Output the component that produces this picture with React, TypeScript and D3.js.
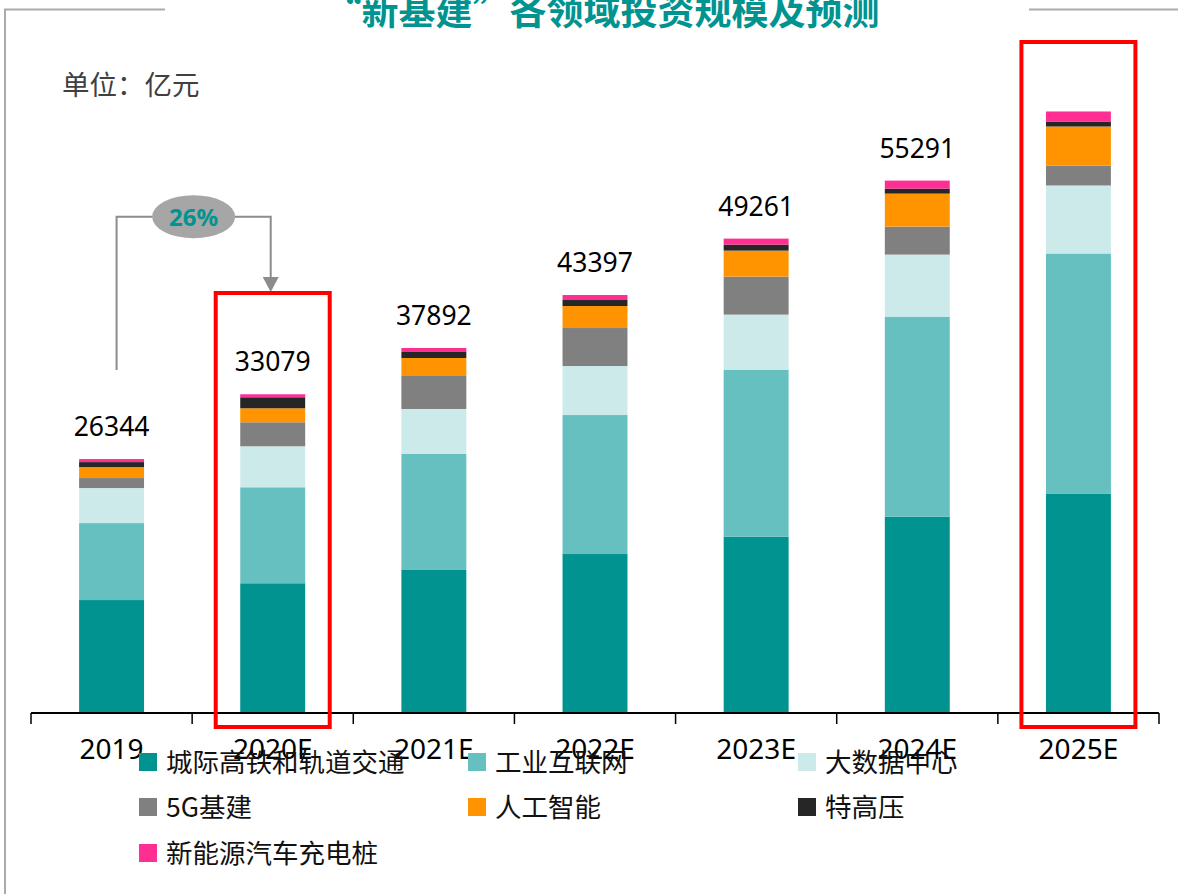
import React from "react";
import * as d3 from "d3";

const categories = ["2019", "2020E", "2021E", "2022E", "2023E", "2024E", "2025E"];
const seriesNames = ["城际高铁和轨道交通", "工业互联网", "大数据中心", "5G基建", "人工智能", "特高压", "新能源汽车充电桩"];
const seriesColors = ["#00938F", "#67C0C0", "#CDEAEA", "#808080", "#FF9400", "#262626", "#FF2E92"];
const railTransit = [11690, 13433, 14815, 16473, 18283, 20363, 22765];
const industrialInternet = [8000, 9979, 12058, 14449, 17360, 20790, 24948];
const dataCenter = [3640, 4262, 4678, 5094, 5717, 6445, 7069];
const fiveG = [1040, 2495, 3430, 3950, 3950, 2911, 2079];
const ai = [1140, 1455, 1871, 2287, 2703, 3430, 4054];
const uhv = [520, 1143, 624, 624, 624, 520, 520];
const evCharging = [314, 312, 416, 520, 624, 832, 1040];
const totalLabels = [26344, 33079, 37892, 43397, 49261, 55291, null];
const growthLabel = "26%";
const highlighted = ["2020E", "2025E"];

const W = 1178;
const H = 894;
const FONT = "'Noto Sans', 'Noto Sans CJK SC', sans-serif";
const CJK = "'Noto Sans CJK SC', 'Noto Sans', sans-serif";

export default function App() {
  const seriesValues = [railTransit, industrialInternet, dataCenter, fiveG, ai, uhv, evCharging];
  const rows = categories.map((c, i) => {
    const r: any = { cat: c };
    seriesNames.forEach((s, j) => (r[s] = seriesValues[j][i]));
    return r;
  });
  const stacked = d3.stack<any>().keys(seriesNames)(rows);

  const x = d3.scaleBand().domain(categories).range([31, 1159]).paddingInner(0.597).paddingOuter(0.2985);
  const y = d3.scaleLinear().domain([0, 65000]).range([712.5, 87.2]);
  const step = x.step();
  const bw = x.bandwidth();
  const cx = (c: string) => (x(c) as number) + bw / 2;

  const tops = categories.map((c, i) => y(stacked[stacked.length - 1][i][1]));
  const ticks = d3.range(categories.length + 1).map((i) => 31 + i * step);

  const lx = cx(categories[0]) + 5;
  const rx = cx(categories[1]) - 2;
  const ay = 216.7;
  const ecx = (lx + rx) / 2;

  const legendCols = [139, 468, 798];
  const legendRows = [762, 807, 853];

  return (
    <svg width={W} height={H} style={{ position: "absolute", left: 0, top: 0, background: "#fff" }}>
      {/* frame lines */}
      <line x1={5} y1={9.5} x2={5} y2={H} stroke="#ababab" strokeWidth={2} />
      <line x1={4} y1={9.5} x2={165} y2={9.5} stroke="#ababab" strokeWidth={2} />
      <line x1={1029} y1={9.5} x2={W} y2={9.5} stroke="#ababab" strokeWidth={2} />
      <text x={602} y={25} textAnchor="middle" fontFamily={CJK} fontWeight={700} fontSize={37} fill="#00938F">
        “新基建”各领域投资规模及预测
      </text>
      <text x={62} y={95} fontFamily={CJK} fontSize={27.5} fill="#404040">
        单位：亿元
      </text>

      {/* bars */}
      {stacked.map((s, j) => (
        <g key={s.key} fill={seriesColors[j]}>
          {s.map((d, i) => (
            <rect key={i} x={x(categories[i])} y={y(d[1])} width={bw} height={y(d[0]) - y(d[1])} />
          ))}
        </g>
      ))}

      {/* total labels */}
      {categories.map((c, i) =>
        totalLabels[i] != null ? (
          <text key={c} x={cx(c)} y={tops[i] - 23} textAnchor="middle" fontFamily={FONT} fontSize={26.5} fill="#000">
            {totalLabels[i]}
          </text>
        ) : null
      )}

      {/* axis */}
      <line x1={31} y1={713} x2={1159} y2={713} stroke="#000" strokeWidth={2} />
      {ticks.map((t, i) => (
        <line key={i} x1={t} y1={713} x2={t} y2={724} stroke="#000" strokeWidth={1.5} />
      ))}
      {categories.map((c) => (
        <text key={c} x={cx(c)} y={759} textAnchor="middle" fontFamily={FONT} fontSize={28} fill="#000">
          {c}
        </text>
      ))}

      {/* growth annotation */}
      <path d={`M${lx},370 V${ay} H${ecx - 41}`} fill="none" stroke="#8c8c8c" strokeWidth={2} />
      <path d={`M${ecx + 41},${ay} H${rx} V278`} fill="none" stroke="#8c8c8c" strokeWidth={2} />
      <path d={`M${rx - 8},277 L${rx + 8},277 L${rx},292 Z`} fill="#8c8c8c" />
      <ellipse cx={ecx} cy={ay} rx={41.5} ry={21.5} fill="#a6a6a6" />
      <text x={ecx} y={ay + 9} textAnchor="middle" fontFamily={FONT} fontWeight={700} fontSize={24} fill="#00938F">
        {growthLabel}
      </text>

      {/* highlight boxes */}
      {highlighted.map((c, k) => (
        <rect
          key={c}
          x={cx(c) - 57}
          y={k === 0 ? 293 : 42}
          width={114}
          height={k === 0 ? 434 : 685}
          fill="none"
          stroke="#ff0000"
          strokeWidth={4}
        />
      ))}

      {/* legend */}
      {seriesNames.map((s, j) => {
        const lxp = legendCols[j % 3];
        const lyp = legendRows[Math.floor(j / 3)];
        return (
          <g key={s}>
            <rect x={lxp} y={lyp - 9} width={18} height={18} fill={seriesColors[j]} />
            <text x={lxp + 27} y={lyp + 10} fontFamily={CJK} fontSize={26.5} fill="#111">
              {s}
            </text>
          </g>
        );
      })}
    </svg>
  );
}
